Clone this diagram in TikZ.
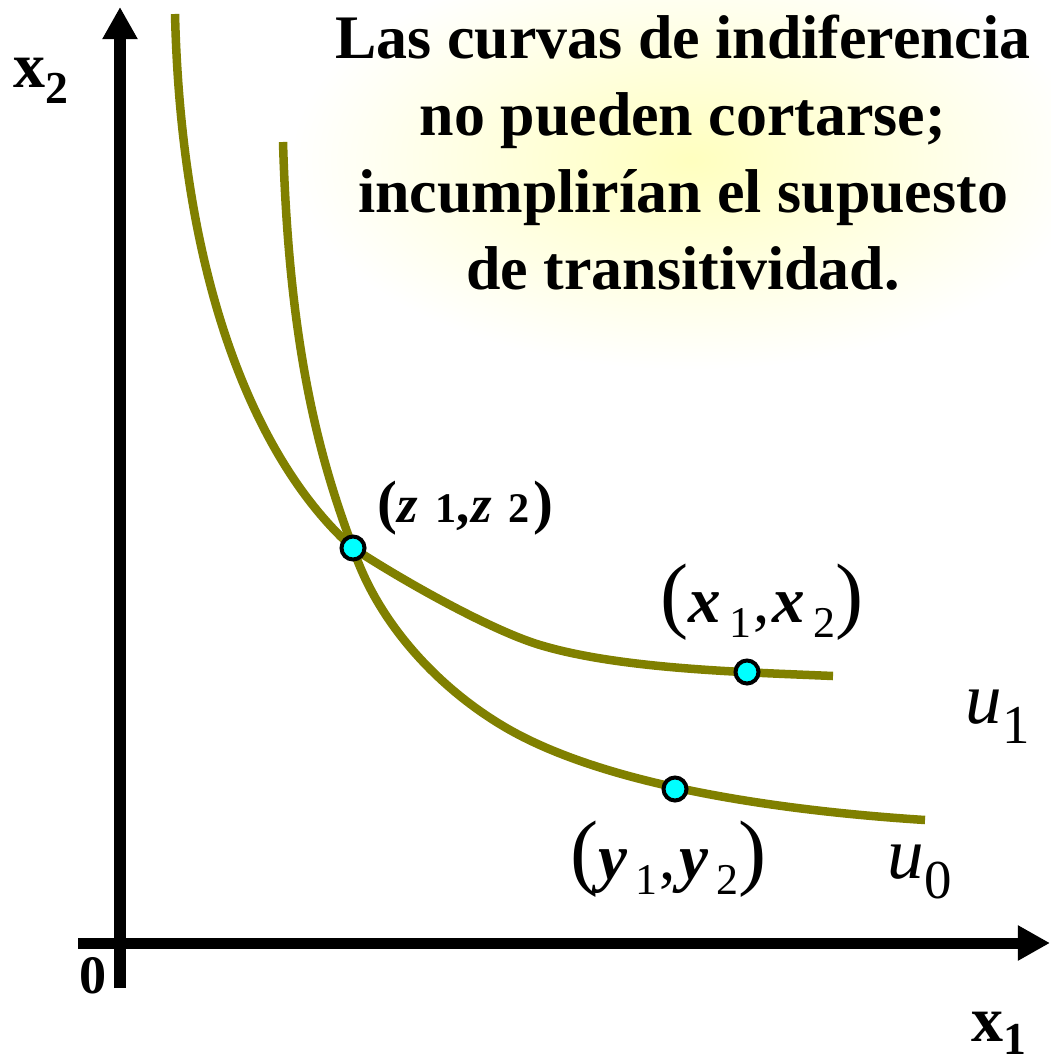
\documentclass[tikz,border=0pt]{standalone}
\usepackage{fontspec}
\setmainfont{Liberation Serif}
\usepackage{tikz}
\usetikzlibrary{arrows.meta}
\definecolor{oliva}{RGB}{128,128,0}
\definecolor{celeste}{RGB}{0,255,255}
\colorlet{brillo}{yellow!25}

\begin{document}
\begin{tikzpicture}[x=0.01cm,y=-0.01cm]

	\tikzstyle{eje}=[line width=0.11cm,-{Triangle[length=0.32cm,width=0.33cm]}]
	\tikzstyle{curva}=[oliva,line width=0.085cm]
	\tikzstyle{punto}=[circle,draw=black,fill=celeste,line width=0.04cm,minimum size=0.23cm,inner sep=0pt]
	\tikzstyle{etiq}=[anchor=base west,inner sep=0pt]

	\useasboundingbox (0,0) rectangle (1050,1061);

	% brillo del titulo
	\shade[inner color=brillo,outer color=white] (690,160) ellipse [x radius=4.0cm,y radius=2.1cm];

	\node (titulo) at (683,153) [align=center,font=\bfseries\fontsize{17.6}{21.9}\selectfont]
		{Las curvas de indiferencia\\no pueden cortarse;\\incumplirían el supuesto\\de transitividad.};

	% ejes
	\coordinate (O)  at (120,943);
	\coordinate (x0) at (78,943);
	\coordinate (xf) at (1050,943);
	\coordinate (y0) at (120,988);
	\coordinate (yf) at (120,7);
	\draw[eje] (x0) -- (xf);
	\draw[eje] (y0) -- (yf);

	% curvas de indiferencia
	\coordinate (c) at (353,548);
	\draw[curva] (175,14) .. controls (182,300) and (265,470) .. (c)
		.. controls (400,579) and (490,630) .. (540,645)
		.. controls (620,669) and (740,672) .. (833,676);
	\draw[curva] (283,142) .. controls (289,350) and (320,460) .. (c)
		.. controls (380,630) and (450,700) .. (523,737)
		.. controls (630,791) and (800,812) .. (925,820);

	\node [punto] (z) at (c) {};
	\node [punto] (x) at (747,672) {};
	\node [punto] (y) at (675,789) {};

	% etiquetas
	\node [etiq,font=\bfseries\fontsize{18.2}{20}\selectfont] (lx2) at (13,88)
		{x\raisebox{-0.15cm}{\fontsize{13}{14}\selectfont 2}};
	\node [etiq,font=\bfseries\fontsize{18.2}{20}\selectfont] (lx1) at (971,1041)
		{x\raisebox{-0.13cm}{\fontsize{13}{14}\selectfont 1}};
	\node [etiq,font=\bfseries\fontsize{15.4}{17}\selectfont] (l0) at (79,993) {0};

	\node [etiq,font=\bfseries\fontsize{15}{17}\selectfont] (lz) at (377,522)
		{{\fontsize{17}{19}\selectfont(}\textit{z}\hspace{0.17cm}{\fontsize{12}{13}\selectfont 1},\hspace{0.02cm}\textit{z}\hspace{0.17cm}{\fontsize{12}{13}\selectfont 2}\hspace{0.03cm}{\fontsize{17}{19}\selectfont)}};
	\node [etiq,font=\fontsize{18.5}{20}\selectfont] (lx) at (660,622)
		{{\fontsize{24}{26}\selectfont(}\textbf{\textit{x}}\hspace{0.08cm}\raisebox{-0.15cm}{\fontsize{12.5}{14}\selectfont 1}\hspace{0.02cm},\hspace{0.03cm}\textbf{\textit{x}}\hspace{0.08cm}\raisebox{-0.15cm}{\fontsize{12.5}{14}\selectfont 2}{\fontsize{24}{26}\selectfont)}};
	\node [etiq,font=\fontsize{18.5}{20}\selectfont] (ly) at (570,879)
		{{\fontsize{24}{26}\selectfont(}\textbf{\textit{y}}\hspace{0.08cm}\raisebox{-0.15cm}{\fontsize{12.5}{14}\selectfont 1}\hspace{0.02cm},\hspace{0.03cm}\textbf{\textit{y}}\hspace{0.08cm}\raisebox{-0.15cm}{\fontsize{12.5}{14}\selectfont 2}{\fontsize{24}{26}\selectfont)}};

	\node [etiq,font=\fontsize{20.8}{22}\selectfont] (lu1) at (965,723)
		{\textit{u}\raisebox{-0.2cm}{\fontsize{15.6}{17}\selectfont 1}};
	\node [etiq,font=\fontsize{20.8}{22}\selectfont] (lu0) at (887,878)
		{\textit{u}\raisebox{-0.2cm}{\fontsize{15.6}{17}\selectfont 0}};

\end{tikzpicture}
\end{document}
